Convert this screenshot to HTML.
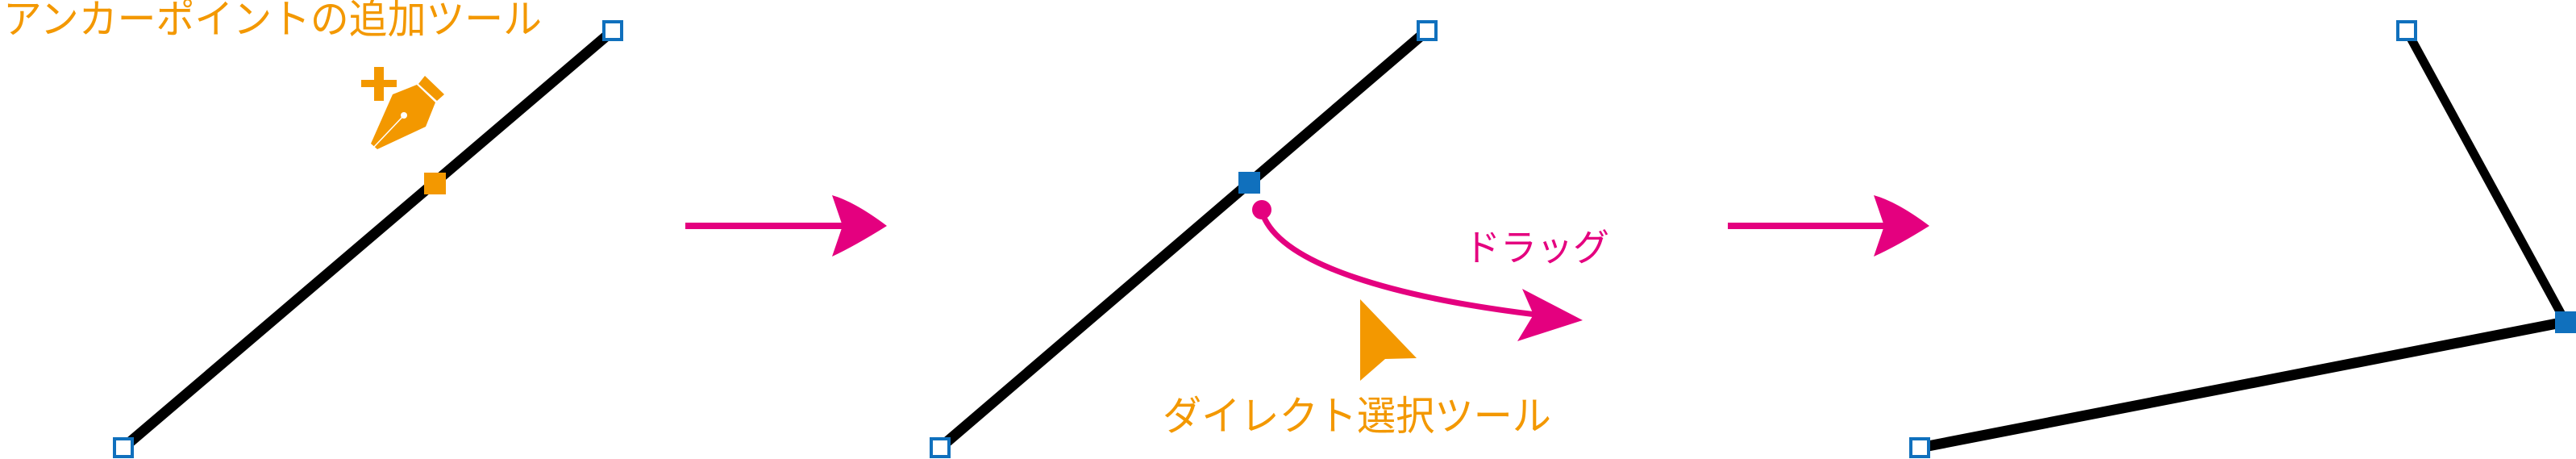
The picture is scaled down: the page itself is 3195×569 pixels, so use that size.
<!DOCTYPE html>
<html><head><meta charset="utf-8"><style>
html,body{margin:0;padding:0;background:#fff;}
svg{display:block}
text{font-family:"Noto Sans CJK JP",sans-serif;}
</style></head><body>
<svg width="3195" height="569" viewBox="0 0 3195 569" xmlns="http://www.w3.org/2000/svg">
<!-- Panel 1 -->
<text x="4" y="41" font-size="50" fill="#f39800" textLength="668" lengthAdjust="spacingAndGlyphs">アンカーポイントの追加ツール</text>
<line x1="153" y1="555" x2="760" y2="38" stroke="#000" stroke-width="13"/>
<rect x="142" y="544" width="22" height="22" fill="#fff" stroke="#1070bd" stroke-width="4"/>
<rect x="749" y="27" width="22" height="22" fill="#fff" stroke="#1070bd" stroke-width="4"/>
<rect x="526" y="214" width="27" height="27" fill="#f39800"/>
<!-- pen icon -->
<rect x="448" y="99" width="44" height="9" fill="#f39800"/>
<rect x="464" y="83" width="12" height="42" fill="#f39800"/>
<polygon points="519,104 527,94 551,117 542,125" fill="#f39800"/>
<polygon points="487,117 517,105 540,127 528,157 468,185 460,178" fill="#f39800"/>
<line x1="501" y1="143" x2="464" y2="182" stroke="#fff" stroke-width="1.5"/>
<circle cx="501" cy="143" r="4" fill="#fff"/>
<!-- Arrow 1 -->
<rect x="850" y="276" width="195" height="8" fill="#e4007f"/>
<path d="M1100,280 Q1060,250 1032,242 L1045,280 L1032,318 Q1060,305 1100,280 Z" fill="#e4007f"/>
<!-- Panel 2 -->
<line x1="1166" y1="555" x2="1770" y2="38" stroke="#000" stroke-width="13"/>
<rect x="1155" y="544" width="22" height="22" fill="#fff" stroke="#1070bd" stroke-width="4"/>
<rect x="1759" y="27" width="22" height="22" fill="#fff" stroke="#1070bd" stroke-width="4"/>
<rect x="1536" y="213" width="27" height="27" fill="#1070bd"/>
<circle cx="1565" cy="260" r="12" fill="#e4007f"/>
<path d="M1565,262 C1585,330 1740,370 1905,390" fill="none" stroke="#e4007f" stroke-width="7"/>
<polygon points="1888,358 1963,397 1882,423 1902,390" fill="#e4007f"/>
<text x="1816" y="323" font-size="46" fill="#e4007f" textLength="180" lengthAdjust="spacingAndGlyphs">ドラッグ</text>
<polygon points="1687,371 1757,444 1718,445 1687,472" fill="#f39800"/>
<text x="1442" y="533" font-size="50" fill="#f39800" textLength="482" lengthAdjust="spacingAndGlyphs">ダイレクト選択ツール</text>
<!-- Arrow 2 -->
<rect x="2143" y="276" width="195" height="8" fill="#e4007f"/>
<path d="M2393,280 Q2353,250 2324,242 L2337,280 L2324,318 Q2353,305 2393,280 Z" fill="#e4007f"/>
<!-- Panel 3 -->
<line x1="2985" y1="38" x2="3182" y2="399" stroke="#000" stroke-width="11"/>
<line x1="2381" y1="555" x2="3182" y2="399" stroke="#000" stroke-width="13"/>
<rect x="2974" y="27" width="22" height="22" fill="#fff" stroke="#1070bd" stroke-width="4"/>
<rect x="2370" y="544" width="22" height="22" fill="#fff" stroke="#1070bd" stroke-width="4"/>
<rect x="3169" y="386" width="27" height="27" fill="#1070bd"/>
</svg>
</body></html>
